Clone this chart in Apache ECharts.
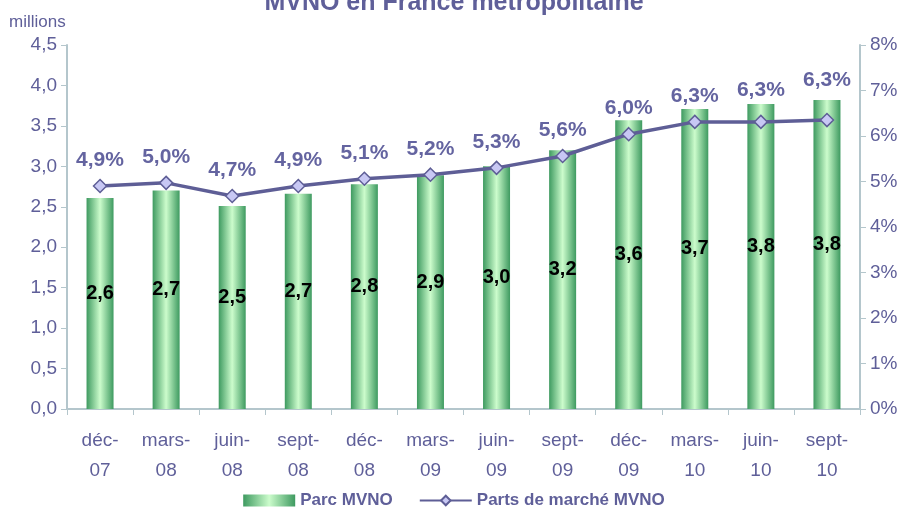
<!DOCTYPE html>
<html>
<head>
<meta charset="utf-8">
<script src="https://cdn.jsdelivr.net/npm/echarts@6/dist/echarts.min.js"></script>
<style>
  html, body { margin: 0; padding: 0; background: #fff; }
  #chart { width: 908px; height: 516px; }
</style>
</head>
<body>
<div id="chart"></div>
<script>
  // donnees
  var categories = ['déc-\n07', 'mars-\n08', 'juin-\n08', 'sept-\n08', 'déc-\n08', 'mars-\n09',
                    'juin-\n09', 'sept-\n09', 'déc-\n09', 'mars-\n10', 'juin-\n10', 'sept-\n10'];
  var parcMVNO = [2.61, 2.70, 2.51, 2.66, 2.78, 2.89, 3.00, 3.20, 3.57, 3.71, 3.77, 3.82];
  var partsMarche = [4.9, 4.97, 4.68, 4.9, 5.06, 5.15, 5.3, 5.56, 6.04, 6.31, 6.31, 6.35];
  var partsLabels = ['4,9%', '5,0%', '4,7%', '4,9%', '5,1%', '5,2%', '5,3%', '5,6%', '6,0%', '6,3%', '6,3%', '6,3%'];

  var font = '"Liberation Sans Narrow", "Liberation Sans", Arial, sans-serif';
  var axisColor = '#b4c6cc';
  var textColor = '#5f5f99';

  var barGradient = new echarts.graphic.LinearGradient(0, 0, 1, 0, [
    {offset: 0, color: '#3e9a60'},
    {offset: 0.5, color: '#ccfccc'},
    {offset: 1, color: '#3e9a60'}
  ]);

  // les dernieres etiquettes sont remontees au-dessus des barres, comme sur l'original
  var lineData = partsMarche.map(function (v, i) {
    var d = {value: v};
    if (i === 10) d.label = {distance: 14};
    if (i === 11) d.label = {distance: 22};
    return d;
  });

  var chart = echarts.init(document.getElementById('chart'));
  var option = {
    backgroundColor: '#ffffff',
    animation: false,
    title: {
      text: 'MVNO en France métropolitaine',
      left: 'center',
      top: -14,
      textStyle: {color: textColor, fontSize: 25, fontWeight: 'bold', fontFamily: 'Liberation Sans, Arial, sans-serif'}
    },
    grid: {left: 67, right: 48, top: 45, bottom: 107},
    legend: {
      bottom: 2,
      left: 'center',
      itemWidth: 52,
      itemHeight: 12,
      itemGap: 26,
      textStyle: {color: textColor, fontSize: 17, fontWeight: 'bold', fontFamily: 'Liberation Sans, Arial, sans-serif'},
      data: [
        {name: 'Parc MVNO', icon: 'rect'},
        {name: 'Parts de marché MVNO'}
      ]
    },
    xAxis: {
      type: 'category',
      data: categories,
      axisLine: {lineStyle: {color: axisColor, width: 2}},
      axisTick: {show: true, length: 6, lineStyle: {color: axisColor}},
      axisLabel: {color: textColor, fontSize: 19, fontFamily: font, lineHeight: 30, margin: 17}
    },
    yAxis: [
      {
        type: 'value',
        name: 'millions',
        nameLocation: 'end',
        nameGap: 14,
        nameTextStyle: {color: textColor, fontSize: 17, fontFamily: font, align: 'left', padding: [0, 0, 0, -58]},
        min: 0, max: 4.5, interval: 0.5,
        axisLine: {show: true, lineStyle: {color: axisColor, width: 2}},
        axisTick: {show: true, length: 6, lineStyle: {color: axisColor}},
        splitLine: {show: false},
        axisLabel: {
          color: textColor, fontSize: 19, fontFamily: font, margin: 10,
          formatter: function (v) { return v.toFixed(1).replace('.', ','); }
        }
      },
      {
        type: 'value',
        min: 0, max: 8, interval: 1,
        axisLine: {show: true, lineStyle: {color: axisColor, width: 2}},
        axisTick: {show: true, length: 6, lineStyle: {color: axisColor}},
        splitLine: {show: false},
        axisLabel: {
          color: textColor, fontSize: 19, fontFamily: font, margin: 10,
          formatter: function (v) { return v + '%'; }
        }
      }
    ],
    series: [
      {
        name: 'Parc MVNO',
        type: 'bar',
        yAxisIndex: 0,
        barWidth: 27,
        data: parcMVNO,
        itemStyle: {color: barGradient},
        label: {
          show: true,
          position: 'inside',
          offset: [0, -10],
          color: '#000',
          fontSize: 20,
          fontWeight: 'bold',
          fontFamily: 'Liberation Sans, Arial, sans-serif',
          formatter: function (p) { return p.value.toFixed(1).replace('.', ','); }
        }
      },
      {
        name: 'Parts de marché MVNO',
        type: 'line',
        yAxisIndex: 1,
        data: lineData,
        symbol: 'diamond',
        symbolSize: 13,
        lineStyle: {color: '#5e5e96', width: 3.5},
        itemStyle: {color: '#c8c8f4', borderColor: '#5e5e96', borderWidth: 1.5},
        label: {
          show: true,
          position: 'top',
          distance: 8,
          color: '#6464a0',
          fontSize: 21,
          fontWeight: 'bold',
          fontFamily: 'Liberation Sans, Arial, sans-serif',
          formatter: function (p) { return partsLabels[p.dataIndex]; }
        }
      }
    ]
  };
  chart.setOption(option);
</script>
</body>
</html>
